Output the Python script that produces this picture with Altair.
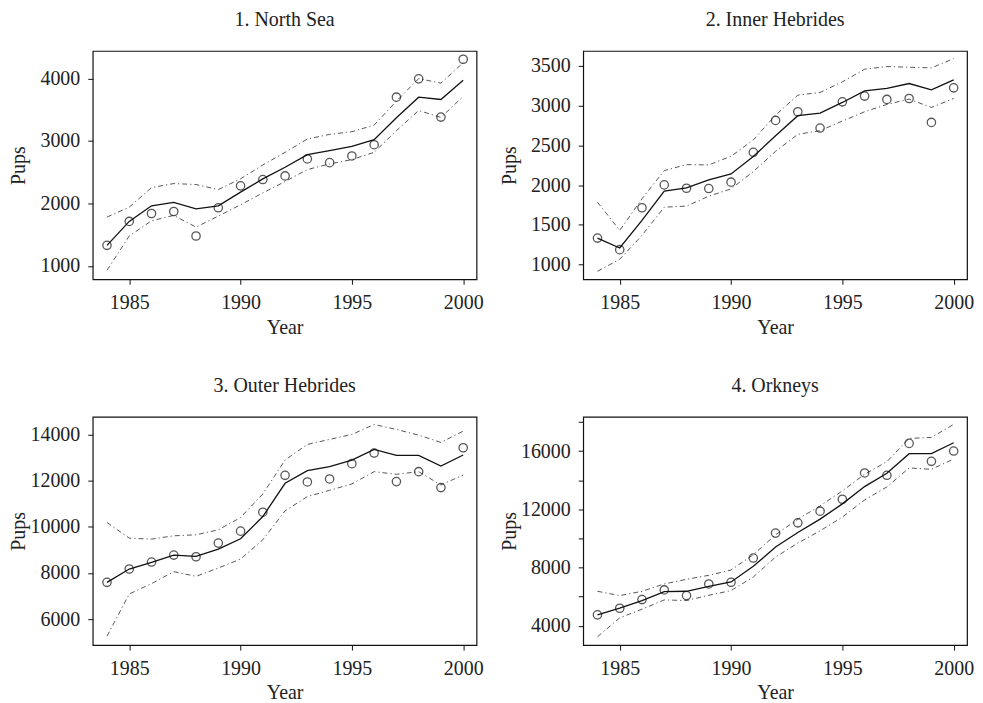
import altair as alt
import pandas as pd

years = list(range(1984, 2001))

# 1. North Sea
ns_obs = [1330, 1713, 1840, 1872, 1479, 1931, 2282, 2383, 2441, 2713, 2654, 2761, 2941, 3702, 3995, 3383, 4309]
ns_fit = [1330, 1713, 1963, 2016, 1915, 1963, 2181, 2394, 2580, 2782, 2846, 2915, 3021, 3372, 3702, 3665, 3973]
ns_hi = [1782, 1941, 2255, 2319, 2303, 2223, 2394, 2617, 2819, 3032, 3106, 3149, 3255, 3638, 4000, 3926, 4255]
ns_lo = [931, 1479, 1723, 1809, 1622, 1798, 1979, 2170, 2351, 2543, 2633, 2702, 2819, 3165, 3489, 3378, 3713]

# 2. Inner Hebrides
ih_obs = [1334, 1188, 1715, 2003, 1961, 1957, 2037, 2413, 2814, 2923, 2718, 3048, 3120, 3078, 3090, 2789, 3224]
ih_fit = [1334, 1209, 1556, 1924, 1965, 2066, 2141, 2359, 2622, 2873, 2906, 3040, 3186, 3216, 3278, 3199, 3324]
ih_hi = [1786, 1430, 1828, 2183, 2258, 2254, 2363, 2568, 2881, 3132, 3166, 3299, 3458, 3492, 3483, 3475, 3592]
ih_lo = [916, 1067, 1368, 1723, 1736, 1861, 1953, 2170, 2425, 2639, 2685, 2806, 2923, 3015, 3082, 2977, 3090]

# 3. Outer Hebrides
oh_obs = [7596, 8172, 8474, 8776, 8704, 9294, 9813, 10633, 12230, 11942, 12072, 12734, 13194, 11957, 12388, 11698, 13424]
oh_fit = [7596, 8172, 8460, 8776, 8719, 9035, 9482, 10446, 11885, 12431, 12604, 12892, 13352, 13093, 13093, 12633, 13108]
oh_hi = [10187, 9510, 9467, 9611, 9654, 9870, 10402, 11424, 12892, 13568, 13784, 14000, 14432, 14216, 13971, 13655, 14144]
oh_lo = [5265, 7093, 7539, 8057, 7856, 8215, 8604, 9438, 10690, 11309, 11582, 11856, 12388, 12273, 12388, 11813, 12244]

# 4. Orkneys
ok_obs = [4750, 5206, 5800, 6461, 6073, 6872, 6986, 8652, 10363, 11071, 11870, 12691, 14494, 14334, 16525, 15293, 16000]
ok_fit = [4750, 5206, 5731, 6347, 6370, 6712, 7009, 8081, 9405, 10409, 11322, 12372, 13558, 14471, 15817, 15817, 16571]
ok_hi = [6370, 6073, 6370, 6872, 7191, 7465, 7830, 8880, 10249, 11322, 12235, 13262, 14403, 15270, 16867, 16935, 17826]
ok_lo = [3243, 4544, 5138, 5777, 5731, 6096, 6416, 7351, 8720, 9679, 10523, 11459, 12645, 13535, 14836, 14745, 15452]

titles = ["1. North Sea", "2. Inner Hebrides", "3. Outer Hebrides", "4. Orkneys"]
x_ticks = [1985, 1990, 1995, 2000]
x_domain = [1983.36, 2000.6]

FONT = "Liberation Serif"
W, H = 385, 229


def panel(title, obs, fit, lo, hi, ydomain, yticks, label_expr=None):
    df = pd.DataFrame({"Year": years, "obs": obs, "fit": fit, "lo": lo, "hi": hi})
    xenc = alt.X("Year:Q",
                 scale=alt.Scale(domain=x_domain, nice=False, zero=False),
                 axis=alt.Axis(values=x_ticks, format="d", title="Year", titlePadding=5))
    axis_kw = dict(values=yticks, format="d", title="Pups",
                   titleX=-74, titleY=H / 2, titleAngle=270, titleBaseline="middle")
    if label_expr:
        axis_kw["labelExpr"] = label_expr
    ysc = alt.Scale(domain=ydomain, nice=False, zero=False)
    base = alt.Chart(df)

    def y(field):
        return alt.Y(f"{field}:Q", scale=ysc, axis=alt.Axis(**axis_kw))

    dash = [5, 3, 1.2, 3]
    hi_l = base.mark_line(color="#444", strokeWidth=0.9, strokeDash=dash).encode(x=xenc, y=y("hi"))
    lo_l = base.mark_line(color="#444", strokeWidth=0.9, strokeDash=dash).encode(x=xenc, y=y("lo"))
    fit_l = base.mark_line(color="#111", strokeWidth=1.3).encode(x=xenc, y=y("fit"))
    pts = base.mark_point(shape="circle", filled=False, color="#111", size=70, strokeWidth=1.3).encode(
        x=xenc, y=y("obs"))
    return alt.layer(hi_l, lo_l, fit_l, pts).properties(
        width=W, height=H, title=alt.TitleParams(title, offset=21))


p1 = panel(titles[0], ns_obs, ns_fit, ns_lo, ns_hi, [787, 4442], [1000, 2000, 3000, 4000])
p2 = panel(titles[1], ih_obs, ih_fit, ih_lo, ih_hi, [816, 3688], [1000, 1500, 2000, 2500, 3000, 3500])
p3 = panel(titles[2], oh_obs, oh_fit, oh_lo, oh_hi, [4878, 14763], [6000, 8000, 10000, 12000, 14000])
p4 = panel(titles[3], ok_obs, ok_fit, ok_lo, ok_hi, [2673, 18350],
           [4000, 6000, 8000, 10000, 12000, 14000, 16000, 18000],
           label_expr="datum.value % 4000 == 0 ? datum.label : ''")

row1 = alt.hconcat(p1, p2, spacing=14)
row2 = alt.hconcat(p3, p4, spacing=14)
chart = alt.vconcat(row1, row2, spacing=37).properties(
    padding={"left": 0, "top": 0, "right": 0, "bottom": 0}
).configure_view(
    stroke="#111", strokeWidth=1.2
).configure_axis(
    domain=False, grid=False, tickColor="#111", tickSize=5, tickWidth=1,
    labelFont=FONT, labelFontSize=20, labelColor="#222", labelPadding=8,
    titleFont=FONT, titleFontSize=20, titleFontWeight="normal", titleColor="#222"
).configure_title(
    font=FONT, fontSize=20, fontWeight="normal", color="#222", anchor="middle"
)

chart.save("out.html", embed_options={"renderer": "svg", "actions": False})
